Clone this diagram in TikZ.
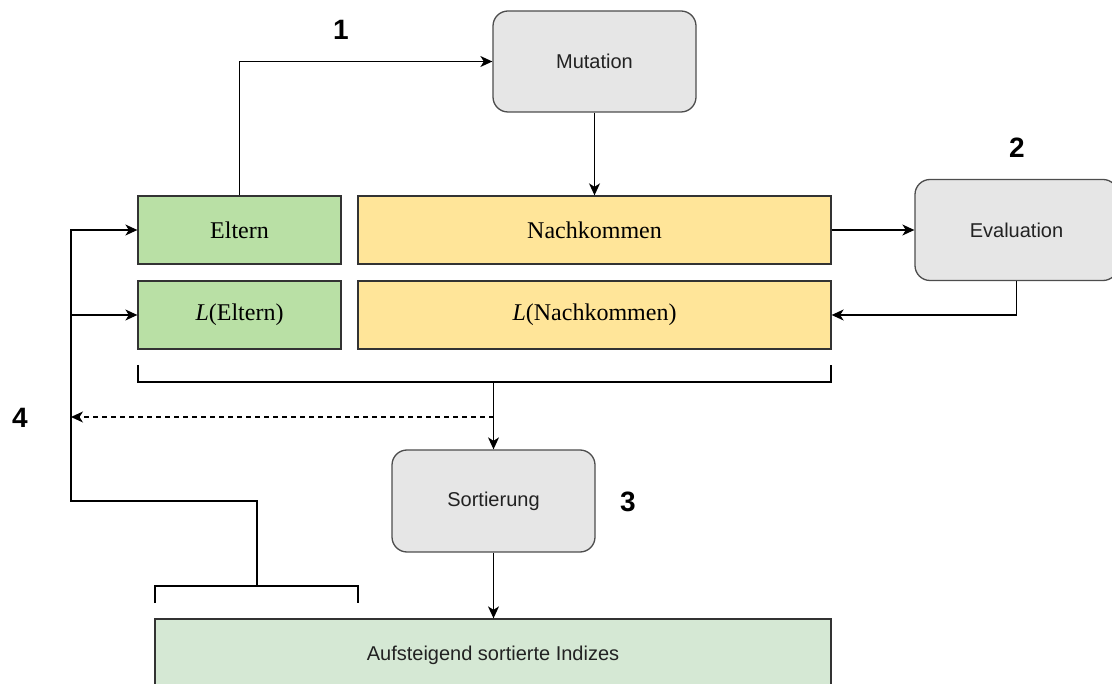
\documentclass[tikz,border=0pt]{standalone}
\usepackage{fontspec}
\setmainfont{Liberation Serif}
\setsansfont{Liberation Sans}
\usetikzlibrary{arrows.meta}
\definecolor{grayfill}{HTML}{E6E6E6}
\definecolor{grayline}{HTML}{4D4D4D}
\definecolor{greenfill}{HTML}{B9E0A5}
\definecolor{yellowfill}{HTML}{FFE599}
\definecolor{lightgreen}{HTML}{D5E8D4}
\definecolor{boxline}{HTML}{333333}
\definecolor{sanstext}{HTML}{222222}
\tikzset{
  proc/.style={draw=grayline, fill=grayfill, rounded corners=15pt, line width=1.3pt,
    minimum width=203pt, minimum height=101pt, inner sep=0pt, text=sanstext,
    font=\sffamily\fontsize{20}{23}\selectfont},
  datgreen/.style={draw=boxline, fill=greenfill, line width=1.3pt,
    minimum height=68pt, inner sep=0pt, font=\rmfamily\fontsize{24}{28}\selectfont},
  datyellow/.style={draw=boxline, fill=yellowfill, line width=1.3pt,
    minimum height=68pt, inner sep=0pt, font=\rmfamily\fontsize{24}{28}\selectfont},
  reslt/.style={draw=boxline, fill=lightgreen, line width=1.3pt,
    minimum height=72pt, inner sep=0pt, text=sanstext, font=\sffamily\fontsize{20}{23}\selectfont},
  stepnum/.style={font=\sffamily\bfseries\fontsize{28}{32}\selectfont, inner sep=0pt},
  conn/.style={line width=1.3pt, draw=black},
  arr/.style={conn, -{Stealth[length=12pt, width=11pt, inset=3.5pt]}},
}
\begin{document}
\begin{tikzpicture}[x=1pt, y=-1pt]
\useasboundingbox (0,0) rectangle (1112,684);
\clip (0,0) rectangle (1112,684);

% nodes
\node[proc] (mut) at (594.5,61.5) {Mutation};
\node[datgreen, minimum width=203pt] (eltern) at (239.5,230) {Eltern};
\node[datyellow, minimum width=473pt] (nach) at (594.5,230) {Nachkommen};
\node[datgreen, minimum width=203pt] (leltern) at (239.5,315) {\textit{L}(Eltern)};
\node[datyellow, minimum width=473pt] (lnach) at (594.5,315) {\textit{L}(Nachkommen)};
\node[proc] (eval) at (1016.5,230) {Evaluation};
\node[proc, minimum height=102pt] (sort) at (493.5,501) {Sortierung};
\node[reslt, minimum width=676pt] (auf) at (493,655) {Aufsteigend sortierte Indizes};

% step labels
\node[stepnum] (n1) at (341,30) {1};
\node[stepnum] (n2) at (1017,148) {2};
\node[stepnum] (n3) at (628,502) {3};
\node[stepnum] (n4) at (20,418) {4};

% coordinates
\coordinate (b1) at (138,365);
\coordinate (b2) at (831,365);
\coordinate (bc) at (493.5,382);
\coordinate (dstart) at (493.5,417);
\coordinate (dend) at (71,417);
\coordinate (lb) at (257,586);
\coordinate (loopc) at (71,501);
\coordinate (lj) at (71,315);
\coordinate (c1) at (155,603);
\coordinate (c2) at (358,603);

% connectors
\draw[arr] (eltern.north) |- (mut.west);
\draw[arr] (mut.south) -- (nach.north);
\draw[arr] (nach.east) -- (eval.west);
\draw[arr] (eval.south) |- (lnach.east);

% upper bracket
\draw[conn] (b1) |- (bc) -| (b2);
\draw[arr] (bc) -- (sort.north);
\draw[arr, dash pattern=on 5pt off 4pt] (dstart) -- (dend);

% loop back
\draw[arr] (lb) |- (loopc) |- (eltern.west);
\draw[arr] (lj) -- (leltern.west);

% lower bracket
\draw[conn] (c1) |- (lb) -| (c2);
\draw[arr] (sort.south) -- (sort.south |- auf.north);
\end{tikzpicture}
\end{document}
